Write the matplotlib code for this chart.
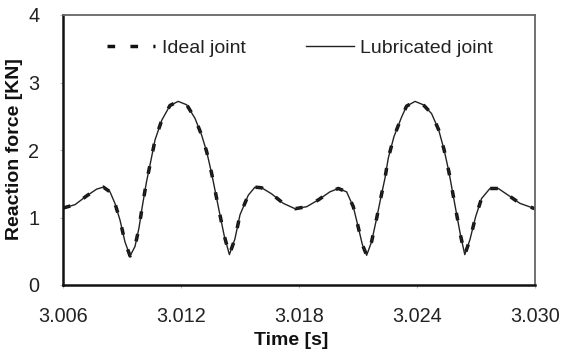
import matplotlib
matplotlib.use("Agg")
import matplotlib.pyplot as plt

plt.rcParams['font.family'] = ['Liberation Sans', 'DejaVu Sans']

# Data (time in s, reaction force in KN)
time = [3.00600, 3.00661, 3.00720, 3.00771, 3.00805, 3.00839, 3.00864, 3.00890,
        3.00915, 3.00941, 3.00966, 3.00986, 3.01003, 3.01024, 3.01046, 3.01068,
        3.01102, 3.01144, 3.01186, 3.01229, 3.01271, 3.01305, 3.01331, 3.01356,
        3.01378, 3.01398, 3.01419, 3.01446, 3.01474, 3.01500, 3.01542, 3.01576,
        3.01610, 3.01661, 3.01720, 3.01780, 3.01839, 3.01898, 3.01957, 3.02000,
        3.02042, 3.02076, 3.02101, 3.02122, 3.02144, 3.02169, 3.02195, 3.02215,
        3.02237, 3.02254, 3.02283, 3.02322, 3.02347, 3.02390, 3.02432, 3.02474,
        3.02510, 3.02538, 3.02562, 3.02582, 3.02602, 3.02621, 3.02643, 3.02669,
        3.02698, 3.02728, 3.02771, 3.02813, 3.02864, 3.02923, 3.03000]
lubricated = [1.14, 1.19, 1.32, 1.42, 1.45, 1.38, 1.21, 0.96,
              0.64, 0.43, 0.57, 0.84, 1.16, 1.52, 1.83, 2.15,
              2.44, 2.66, 2.72, 2.67, 2.47, 2.22, 1.97, 1.65,
              1.33, 1.04, 0.74, 0.45, 0.68, 1.04, 1.33, 1.45,
              1.44, 1.35, 1.21, 1.13, 1.16, 1.26, 1.38, 1.43,
              1.38, 1.16, 0.86, 0.60, 0.44, 0.64, 0.99, 1.28,
              1.58, 1.88, 2.20, 2.49, 2.65, 2.72, 2.67, 2.54,
              2.30, 2.00, 1.68, 1.36, 1.04, 0.74, 0.45, 0.67,
              1.01, 1.28, 1.43, 1.43, 1.33, 1.21, 1.13]
ideal = list(lubricated)

xticks = [3.006, 3.012, 3.018, 3.024, 3.030]
xticklabels = ["3.006", "3.012", "3.018", "3.024", "3.030"]
yticks = [0, 1, 2, 3, 4]

fig = plt.figure(figsize=(5.61, 3.57), dpi=100)
ax = fig.add_axes([63/561, 1-285/357, 472/561, 270/357])

ax.plot(time, ideal, color='#111111', lw=2.5, dashes=(2.2, 4.4), label='Ideal joint')
ax.plot(time, lubricated, color='#222222', lw=1.0, label='Lubricated joint')

ax.set_xlim(3.006, 3.030)
ax.set_ylim(0, 4)
ax.set_xticks(xticks)
ax.set_xticklabels(xticklabels)
ax.set_yticks(yticks)
ax.tick_params(axis='both', length=2, color='#bbbbbb', labelsize=14.3, colors='#222222')
ax.tick_params(axis='x', pad=14)
ax.tick_params(axis='y', pad=15)

for s in ['left', 'bottom']:
    ax.spines[s].set_color('#111111')
    ax.spines[s].set_linewidth(1.8)
for s in ['top', 'right']:
    ax.spines[s].set_color('#666666')
    ax.spines[s].set_linewidth(1.3)

ax.set_xlabel('Time [s]', fontsize=14, fontweight='bold', color='#111111')
ax.set_ylabel('Reaction force [KN]', fontsize=14, fontweight='bold', color='#111111')
ax.xaxis.set_label_coords(0.484, -47/270)
ax.yaxis.set_label_coords(-40/472, 0.505)

leg = ax.legend(loc='upper center', bbox_to_anchor=(0.503, 1.0), ncol=2, frameon=False,
                fontsize=14, handlelength=2.45, handletextpad=0.35, columnspacing=3.1,
                borderaxespad=0.85)
for t in leg.get_texts():
    t.set_color('#222222')

fig.savefig('out.png', dpi=100)
